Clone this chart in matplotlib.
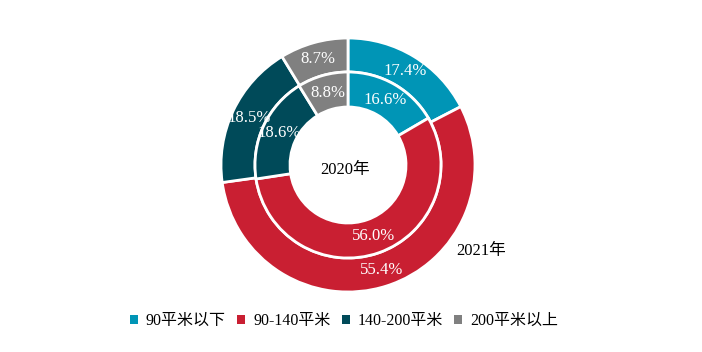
import matplotlib
matplotlib.use("Agg")
import matplotlib.pyplot as plt
from matplotlib.patches import Patch

plt.rcParams['font.family'] = ['Liberation Serif', 'Noto Sans CJK SC']

categories = ["90平米以下", "90-140平米", "140-200平米", "200平米以上"]
share_2021 = [17.4, 55.4, 18.5, 8.7]
share_2020 = [16.6, 56.0, 18.6, 8.8]
colors = ["#0095b6", "#c91f32", "#004a59", "#808080"]

W, H = 702, 352
fig = plt.figure(figsize=(W / 100, H / 100), dpi=100)
ax = fig.add_axes([0, 0, 1, 1])

cx, cy = 348, H - 165
r_out, r_mid, r_in = 127, 93, 58

wedge_kw = dict(edgecolor="white", linewidth=2)
txt_kw = dict(color="white", fontsize=12)

ax.pie(share_2021, radius=r_out, center=(cx, cy), colors=colors,
       startangle=90, counterclock=False,
       wedgeprops=dict(width=r_out - r_mid, **wedge_kw),
       autopct="%.1f%%", pctdistance=0.865, textprops=txt_kw)
ax.pie(share_2020, radius=r_mid, center=(cx, cy), colors=colors,
       startangle=90, counterclock=False,
       wedgeprops=dict(width=r_mid - r_in, **wedge_kw),
       autopct="%.1f%%", pctdistance=0.81, textprops=txt_kw)

ax.text(cx - 3, H - 170, "2020年", ha="center", va="center", fontsize=12)
ax.text(456, H - 251, "2021年", ha="left", va="center", fontsize=12)

ax.set_xlim(0, W)
ax.set_ylim(0, H)
ax.set_aspect("equal")
ax.axis("off")

handles = [Patch(facecolor=c, edgecolor="none") for c in colors]
fig.legend(handles, categories, loc="center", bbox_to_anchor=(344 / W, 1 - 321 / H),
           ncol=4, frameon=False, fontsize=11.5, handlelength=0.5, handleheight=0.5,
           handletextpad=0.5, columnspacing=0.7)

fig.savefig("out.png", dpi=100)
